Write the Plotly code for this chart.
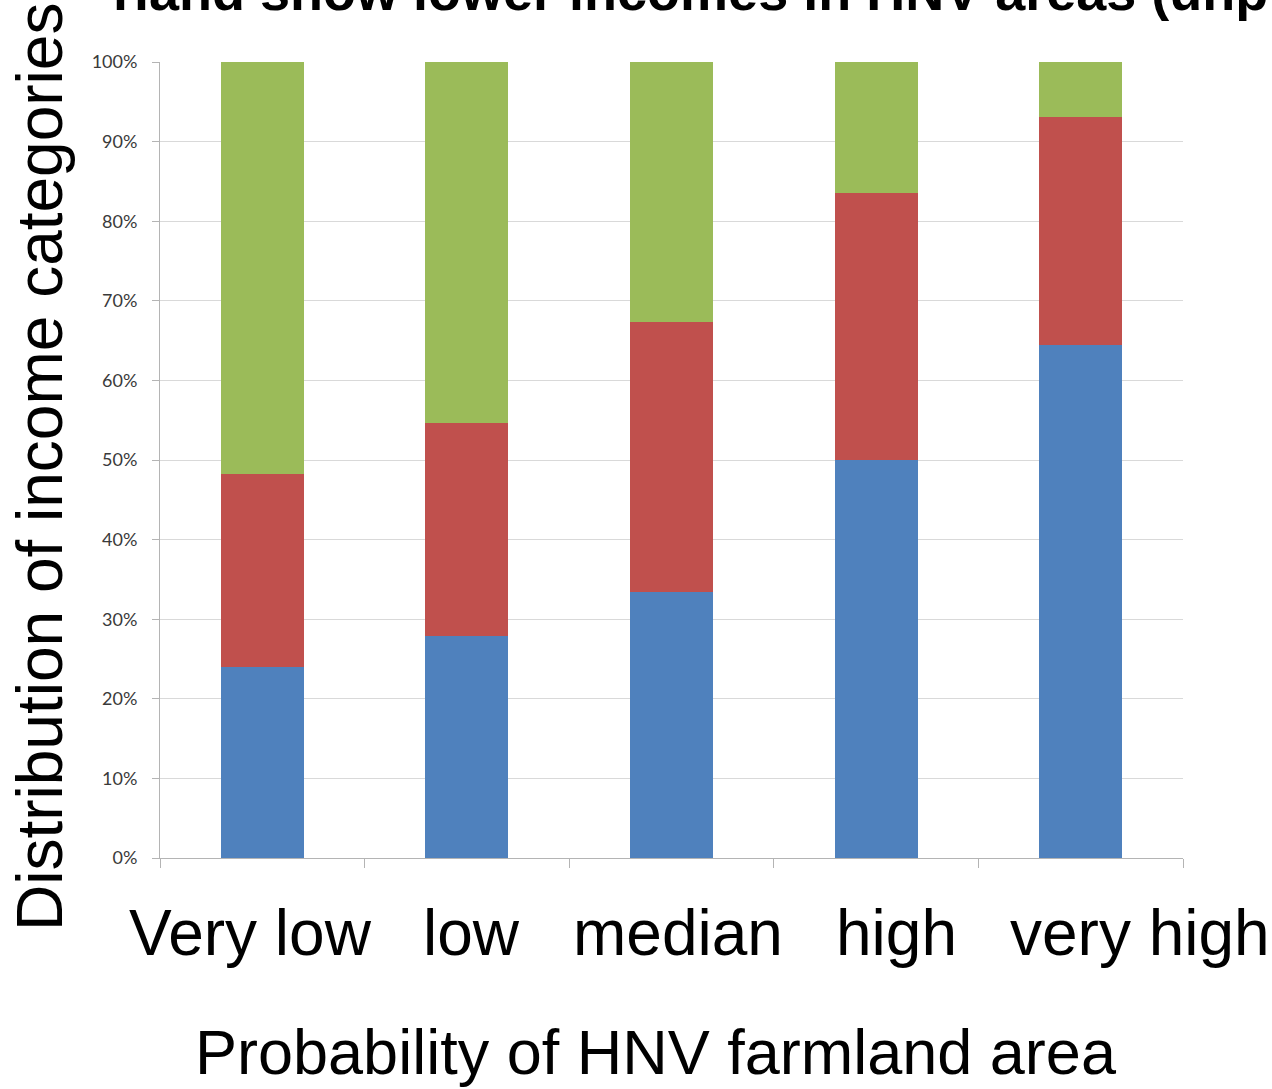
import plotly.graph_objects as go

# ---- data ----
categories = ["Very low", "low", "median", "high", "very high"]
share_blue = [24.0, 27.9, 33.4, 50.0, 64.4]
share_red = [24.2, 26.8, 33.9, 33.5, 28.7]
share_green = [51.8, 45.3, 32.7, 16.5, 6.9]
y_ticks = [0, 10, 20, 30, 40, 50, 60, 70, 80, 90, 100]
y_tick_labels = [f"{v}%" for v in y_ticks]

title_text = "rland show lower incomes in HNV areas (unp"
y_title = "Distribution of income categories"
x_title = "Probability of HNV farmland area"

# ---- layout constants (pixels) ----
W, H = 1272, 1089
L, R, T, B = 160, 89, 62, 231
PW, PH = W - L - R, H - T - B


def px_x(px):
    return (px - L) / PW


def px_y(py):
    return (H - B - py) / PH


fig = go.Figure()
for vals, color in [(share_blue, "#4F81BD"), (share_red, "#C0504D"), (share_green, "#9BBB59")]:
    fig.add_trace(go.Bar(x=categories, y=vals, marker=dict(color=color, line=dict(width=0)),
                         showlegend=False, hoverinfo="skip"))

fig.update_layout(
    width=W, height=H,
    margin=dict(l=L, r=R, t=T, b=B, pad=0),
    barmode="stack", bargap=0.594,
    plot_bgcolor="white", paper_bgcolor="white",
    font=dict(family="Liberation Sans, Arial, sans-serif", color="black"),
)
fig.update_xaxes(
    range=[-0.5, 4.5], showticklabels=False, ticks="outside", tickson="boundaries",
    ticklen=9, tickcolor="#B4B4B4", tickwidth=1, showline=True, linecolor="#B4B4B4",
    linewidth=1, showgrid=False, zeroline=False,
)
fig.update_yaxes(
    range=[0, 100], tickvals=y_ticks, ticktext=y_tick_labels, ticks="outside",
    ticklen=7, tickcolor="#B4B4B4", showline=True, linecolor="#B4B4B4", linewidth=1,
    showgrid=True, gridcolor="#D9D9D9", gridwidth=1, zeroline=False,
    tickfont=dict(family="Lato, Open Sans, sans-serif", size=18, color="#3A3A3A"),
    ticklabelstandoff=11,
)

ann = []
# clipped title at the top
ann.append(dict(text=f"<b>{title_text}</b>", xref="paper", yref="paper",
                x=px_x(1270), y=px_y(23), xanchor="right", yanchor="bottom",
                showarrow=False, font=dict(size=54, color="black")))
# big y-axis title
ann.append(dict(text=y_title, xref="paper", yref="paper", x=px_x(40), y=px_y(467),
                xanchor="center", yanchor="middle", textangle=-90, showarrow=False,
                font=dict(size=64, color="black")))
# big category labels
label_centers = [250, 471, 678, 896, 1140]
for lab, cx in zip(categories, label_centers):
    ann.append(dict(text=lab, xref="paper", yref="paper", x=px_x(cx), y=px_y(895),
                    xanchor="center", yanchor="top", showarrow=False,
                    font=dict(size=64, color="black")))
# big x-axis title
ann.append(dict(text=x_title, xref="paper", yref="paper", x=px_x(656), y=px_y(1015),
                xanchor="center", yanchor="top", showarrow=False,
                font=dict(size=63, color="black")))
fig.update_layout(annotations=ann)

fig.write_html(
    "out.html",
    config={"displayModeBar": False},
    post_script="document.body.style.margin='0';document.body.style.overflow='hidden';",
)
